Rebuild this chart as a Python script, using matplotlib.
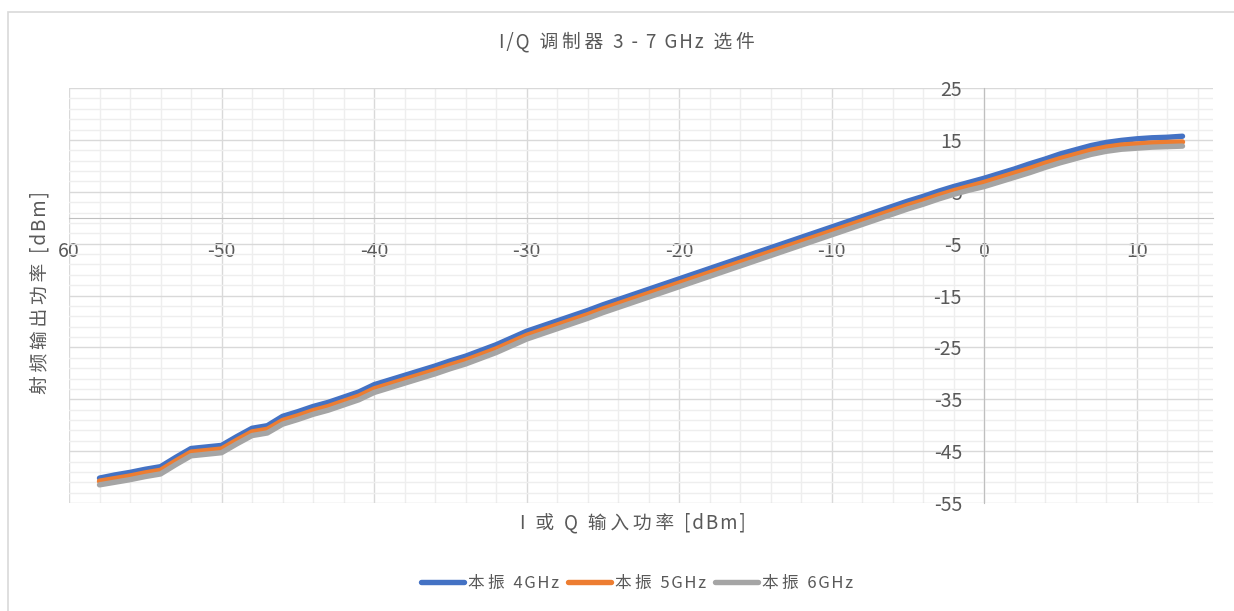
import matplotlib
matplotlib.use("Agg")
import matplotlib.pyplot as plt
import numpy as np

plt.rcParams['font.family'] = ['Noto Sans CJK SC', 'DejaVu Sans']

# input power sweep [dBm] and measured RF output [dBm] per LO frequency
p_in = [-58, -57, -56, -55, -54, -53, -52, -51, -50, -49, -48, -47, -46, -45,
        -44, -43, -42, -41, -40, -39, -38, -37, -36, -35, -34, -33, -32, -31,
        -30, -29, -28, -27, -26, -25, -24, -23, -22, -21, -20, -19, -18, -17,
        -16, -15, -14, -13, -12, -11, -10, -9, -8, -7, -6, -5, -4, -3, -2, -1,
        0, 1, 2, 3, 4, 5, 6, 7, 8, 9, 10, 11, 12, 13]

lo_4ghz = [-50.2, -49.6, -49.1, -48.5, -48.0, -46.2, -44.5, -44.2, -43.9, -42.2,
           -40.6, -40.1, -38.3, -37.4, -36.4, -35.6, -34.6, -33.6, -32.2, -31.3,
           -30.4, -29.5, -28.6, -27.6, -26.7, -25.6, -24.5, -23.2, -21.9, -20.9,
           -19.9, -18.9, -17.9, -16.8, -15.8, -14.8, -13.8, -12.8, -11.8, -10.8,
           -9.8, -8.8, -7.8, -6.8, -5.8, -4.8, -3.8, -2.8, -1.8, -0.8, 0.2, 1.2,
           2.2, 3.2, 4.1, 5.1, 6.0, 6.8, 7.6, 8.5, 9.4, 10.4, 11.3, 12.3, 13.1,
           13.9, 14.5, 14.9, 15.2, 15.4, 15.5, 15.7]

lo_5ghz = [-50.8, -50.3, -49.8, -49.2, -48.7, -46.9, -45.2, -44.9, -44.6, -42.9,
           -41.3, -40.8, -39.1, -38.2, -37.2, -36.4, -35.4, -34.4, -33.0, -32.1,
           -31.2, -30.3, -29.4, -28.4, -27.5, -26.4, -25.3, -24.0, -22.7, -21.7,
           -20.7, -19.7, -18.7, -17.6, -16.6, -15.6, -14.6, -13.6, -12.6, -11.6,
           -10.6, -9.6, -8.6, -7.6, -6.6, -5.6, -4.6, -3.6, -2.6, -1.6, -0.6, 0.4,
           1.4, 2.4, 3.3, 4.3, 5.2, 6.0, 6.8, 7.7, 8.6, 9.5, 10.5, 11.4, 12.2,
           13.0, 13.6, 14.0, 14.2, 14.4, 14.5, 14.6]

lo_6ghz = [-51.5, -51.0, -50.5, -49.9, -49.4, -47.6, -45.9, -45.6, -45.3, -43.6,
           -42.0, -41.5, -39.8, -38.9, -37.9, -37.1, -36.1, -35.1, -33.7, -32.8,
           -31.9, -31.0, -30.1, -29.1, -28.2, -27.1, -26.0, -24.7, -23.4, -22.4,
           -21.4, -20.4, -19.4, -18.3, -17.3, -16.3, -15.3, -14.3, -13.3, -12.3,
           -11.3, -10.3, -9.3, -8.3, -7.3, -6.3, -5.3, -4.3, -3.3, -2.3, -1.3, -0.3,
           0.7, 1.7, 2.6, 3.6, 4.5, 5.3, 6.0, 6.9, 7.8, 8.7, 9.7, 10.6, 11.4,
           12.2, 12.8, 13.2, 13.4, 13.6, 13.7, 13.8]

series = [("本振 4GHz", lo_4ghz, "#4472C4"),
          ("本振 5GHz", lo_5ghz, "#ED7D31"),
          ("本振 6GHz", lo_6ghz, "#A5A5A5")]

x_ticks = [-60, -50, -40, -30, -20, -10, 0, 10]
x_ticklabels = ["60", "-50", "-40", "-30", "-20", "-10", "0", "10"]  # minus of -60 falls off the edge
y_ticks = [-55, -45, -35, -25, -15, -5, 5, 15, 25]

text_col = "#595959"


def spaced(s):
    # loose letter spacing: wider around CJK glyphs, a hair between latin ones
    out = s[0]
    for a, b in zip(s, s[1:]):
        cjk = ord(a) > 0x2e80 or ord(b) > 0x2e80
        out += ("\u2009" if cjk else "\u200a") + b
    return out


fig = plt.figure(figsize=(12.34, 6.11), dpi=100)
ax = fig.add_axes([69 / 1234, 1 - 503 / 611, 1144 / 1234, 415 / 611])

# chart frame
fig.patches.append(plt.Rectangle((8 / 1234, -0.1), 1.2, 1.1 - 12 / 611, transform=fig.transFigure,
                                 fill=False, edgecolor="#d9d9d9", lw=1.2, zorder=0))

for name, vals, col in series:
    ax.plot(p_in, vals, color=col, lw=3.9, label=spaced(name), solid_capstyle="round", zorder=3)

ax.set_xlim(-60, 15)
ax.set_ylim(-55, 25)
ax.set_xticks(x_ticks)
ax.set_xticks(np.arange(-60, 16, 2), minor=True)
ax.set_yticks(y_ticks)
ax.set_yticks(np.arange(-55, 26, 2), minor=True)
ax.grid(True, which="major", color="#d9d9d9", lw=1.0, zorder=0)
ax.grid(True, which="minor", color="#eeeeee", lw=1.0, zorder=0)
ax.set_axisbelow(True)

for s in ["top", "right"]:
    ax.spines[s].set_visible(False)
for s in ["left", "bottom"]:
    ax.spines[s].set_position(("data", 0))
    ax.spines[s].set_color("#bfbfbf")
    ax.spines[s].set_zorder(1)

ax.tick_params(which="both", length=0, labelsize=14, colors=text_col)
ax.tick_params(axis="x", pad=17)
ax.tick_params(axis="y", pad=16)
ax.set_xticklabels(x_ticklabels)
ax.set_yticklabels([str(v) for v in y_ticks])

ax.set_xlabel(spaced("I 或 Q 输入功率 [dBm]"), fontsize=13.5, color=text_col)
ax.xaxis.set_label_coords((633 - 69) / 1144, -20 / 415)
ax.xaxis.label.set_va("center")
ax.set_ylabel(spaced("射频输出功率 [dBm]"), fontsize=13.5, color=text_col)
ax.yaxis.set_label_coords(-29 / 1144, (503 - 293) / 415)
ax.yaxis.label.set_va("center")

fig.text(626.5 / 1234, 1 - 42 / 611, spaced("I/Q 调制器 3 - 7 GHz 选件"), ha="center", va="center",
         fontsize=13.5, color=text_col)

fig.legend(loc="center", bbox_to_anchor=(637 / 1234, 1 - 583 / 611), ncol=3, frameon=False,
           fontsize=12, labelcolor=text_col, handlelength=2.6, handletextpad=0.25,
           columnspacing=0.5)

fig.savefig("out.png", dpi=100)
